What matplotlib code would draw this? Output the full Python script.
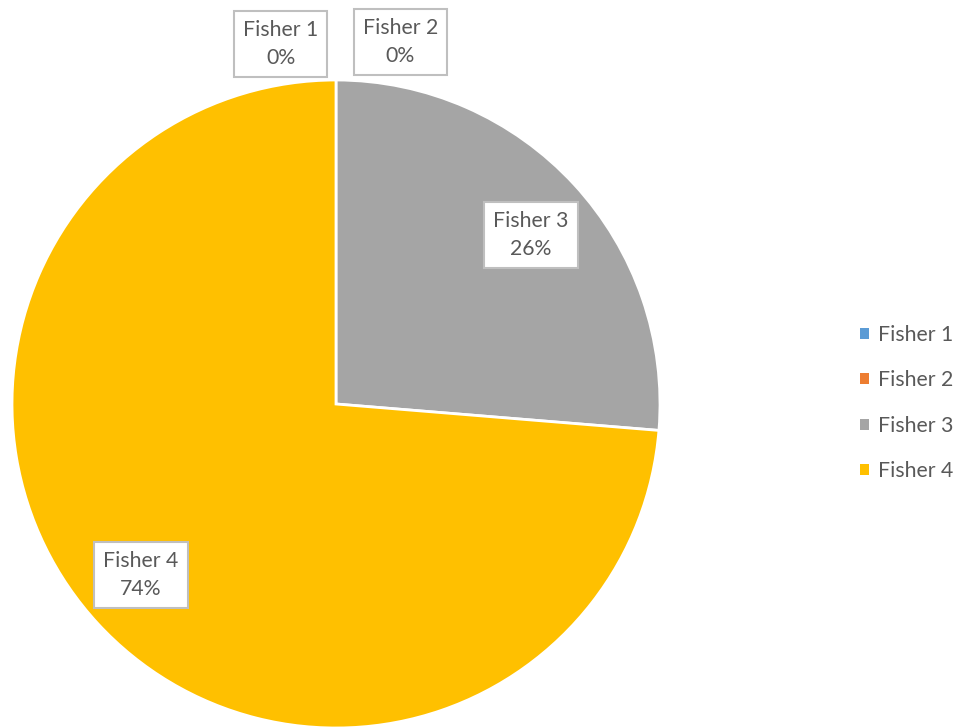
import matplotlib.pyplot as plt
from matplotlib.patches import Patch

plt.rcParams['font.family'] = ['Lato', 'DejaVu Sans']

labels = ["Fisher 1", "Fisher 2", "Fisher 3", "Fisher 4"]
values = [0.0, 0.0, 26.3, 73.7]
pct_text = ["0%", "0%", "26%", "74%"]
colors = ["#5B9BD5", "#ED7D31", "#A5A5A5", "#FFC000"]
# label box positions in data units (radius = 1)
label_pos = [(-0.170, 1.112), (0.198, 1.117), (0.602, 0.522), (-0.602, -0.528)]

text_color = "#595959"


def main():
    fig = plt.figure(figsize=(9.62, 7.27), dpi=100)
    ax = fig.add_axes([12 / 962, -1 / 727, 648 / 962, 648 / 727])

    ax.pie(values, colors=colors, startangle=90, counterclock=False,
           radius=1, wedgeprops=dict(edgecolor="white", linewidth=2))
    ax.set_xlim(-1, 1)
    ax.set_ylim(-1, 1)
    ax.set_aspect("auto")
    ax.axis("off")

    for (x, y), name, pct in zip(label_pos, labels, pct_text):
        ax.text(x, y, f"{name}\n{pct}", ha="center", va="center",
                fontsize=15.3, color=text_color, linespacing=1.5,
                clip_on=False,
                bbox=dict(boxstyle="square,pad=0.42", facecolor="white",
                          edgecolor="#BFBFBF", linewidth=1.5))

    handles = [Patch(facecolor=c, edgecolor="none") for c in colors]
    fig.legend(handles, labels, loc="center left",
               bbox_to_anchor=(860 / 962, 1 - 403 / 727), frameon=False,
               fontsize=15.3, labelcolor=text_color, handlelength=0.4,
               handleheight=0.4, handletextpad=0.45, labelspacing=1.2,
               borderaxespad=0, borderpad=0)

    fig.savefig("out.png", dpi=100)


if __name__ == "__main__":
    main()
